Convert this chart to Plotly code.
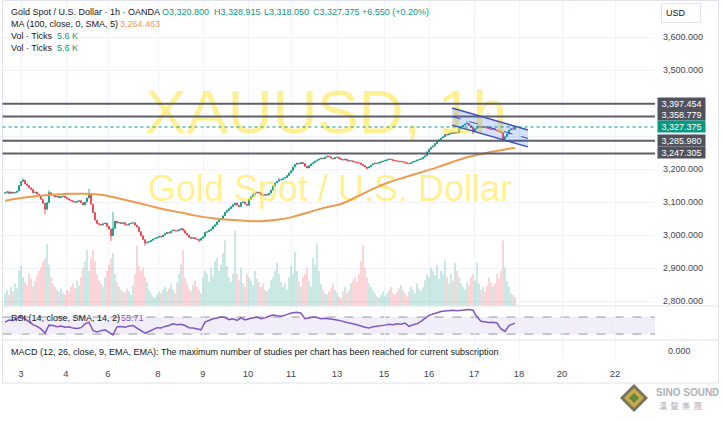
import plotly.graph_objects as go

W, H = 722, 421
FONT = "Liberation Sans"

# ---------------- data ----------------
closes = [
    3128, 3131, 3126, 3130, 3127, 3129, 3133, 3150, 3162, 3166, 3155, 3150, 3143, 3138, 3128, 3130,
    3124, 3118, 3108, 3096, 3078, 3098, 3128, 3124, 3120, 3115, 3117, 3113, 3116, 3118, 3114, 3110,
    3106, 3104, 3101, 3099, 3102, 3104, 3098, 3091, 3100, 3112, 3126, 3093, 3068, 3045, 3035, 3032,
    3030, 3034, 3036, 3026, 3018, 2998, 3020, 3042, 3036, 3038, 3035, 3037, 3031, 3030, 3034, 3036,
    3037, 3030, 3024, 3010, 2998, 2986, 2976, 2978, 2980, 2984, 2988, 2990, 2993, 2996, 2994, 3000,
    3004, 3008, 3006, 3012, 3015, 3013, 3012, 3016, 3019, 3014, 3006, 3000, 2993, 2990, 2992, 2988,
    2987, 2984, 2990, 2995, 3008, 3010, 3014, 3018, 3026, 3031, 3040, 3046, 3050, 3058, 3069, 3074,
    3080, 3086, 3092, 3097, 3090, 3086, 3098, 3100, 3094, 3090, 3108, 3116, 3122, 3127, 3130, 3128,
    3122, 3120, 3123, 3121, 3127, 3136, 3148, 3158, 3163, 3167, 3168, 3172, 3174, 3180, 3188, 3195,
    3206, 3214, 3218, 3216, 3220, 3217, 3208, 3203, 3210, 3216, 3219, 3224, 3227, 3230, 3233, 3231,
    3236, 3239, 3237, 3233, 3231, 3235, 3236, 3232, 3229, 3227, 3230, 3226, 3224, 3225, 3222, 3221,
    3219, 3218, 3214, 3210, 3206, 3203, 3207, 3212, 3216, 3218, 3217, 3220, 3222, 3224, 3226, 3228,
    3230, 3229, 3226, 3225, 3224, 3222, 3223, 3221, 3219, 3217, 3216, 3219, 3222, 3224, 3227, 3229,
    3231, 3236, 3240, 3252, 3260, 3266, 3270, 3277, 3283, 3289, 3294, 3298, 3305, 3303, 3307, 3310,
    3308, 3311, 3309, 3322, 3328, 3333, 3336, 3338, 3332, 3326, 3312, 3322, 3328, 3330, 3326, 3328,
    3327, 3324, 3322, 3320, 3322, 3318, 3316, 3314, 3310, 3290, 3298, 3306, 3318, 3322, 3320.825, 3327.375,
]
first_open = 3126.0
last_bar_open = 3320.800
wick_high = {9: 3172, 22: 3136, 42: 3140, 54: 3070, 137: 3173, 231: 3346, 255: 3328.915}
wick_low = {20: 3062, 53: 2982, 70: 2968, 97: 2978, 181: 3198, 234: 3305, 249: 3282, 255: 3318.050}

volumes_k = [
    8, 10, 7, 12, 9, 14, 11, 22, 25, 18, 15, 13, 20, 17, 12, 16,
    19, 22, 24, 28, 30, 39, 26, 18, 14, 12, 10, 9, 11, 8, 7, 10,
    9, 12, 14, 11, 16, 13, 18, 24, 28, 35, 22, 30, 35, 28, 20, 16,
    14, 12, 18, 22, 26, 30, 33, 20, 15, 12, 10, 9, 8, 11, 9, 7,
    13, 20, 38, 25, 22, 24, 18, 15, 10, 8, 6, 5, 7, 9, 8, 10,
    12, 9, 11, 14, 10, 8, 15, 20, 26, 35, 18, 14, 11, 9, 13, 16,
    12, 10, 8, 18, 22, 20, 15, 24, 19, 28, 30, 22, 26, 33, 41, 25,
    18, 15, 20, 47, 20, 16, 24, 14, 12, 20, 18, 16, 13, 22, 17, 15,
    12, 14, 10, 9, 11, 16, 18, 22, 27, 20, 15, 12, 14, 10, 18, 25,
    20, 34, 22, 15, 12, 18, 20, 24, 16, 12, 30, 26, 39, 22, 14, 10,
    8, 7, 9, 11, 14, 10, 8, 6, 5, 9, 12, 8, 10, 14, 16, 18,
    15, 20, 28, 38, 24, 18, 14, 12, 10, 8, 6, 5, 7, 9, 6, 8,
    10, 12, 8, 7, 9, 11, 13, 10, 8, 6, 9, 12, 10, 8, 14, 11,
    9, 12, 16, 20, 18, 24, 22, 19, 26, 17, 22, 20, 29, 18, 14, 20,
    16, 27, 22, 18, 14, 12, 10, 15, 13, 18, 20, 16, 27, 14, 10, 12,
    9, 13, 18, 15, 12, 14, 20, 17, 22, 41, 24, 16, 12, 8, 7, 5.6,
]

# MA(100) sampled every 8 bars, plus the last bar
ma_values = [3104, 3112, 3118, 3122, 3125, 3125, 3122, 3112, 3101, 3089, 3077, 3068, 3058, 3051, 3046, 3043,
             3042, 3046, 3055, 3069, 3083, 3094, 3116, 3140, 3160, 3175, 3190, 3205, 3222, 3237, 3248, 3257,
             3264.463]

# RSI sampled every 2 bars, plus the last bar
rsi_values = [58, 63, 62, 66, 72, 65, 58, 52, 48, 42, 32, 51, 50, 47, 49, 46,
              47, 44, 43, 45, 54, 58, 38, 35, 38, 40, 34, 28, 47, 48, 46, 49,
              50, 44, 36, 32, 36, 40, 45, 44, 48, 50, 54, 52, 53, 50, 45, 44,
              42, 40, 58, 63, 66, 68, 70, 69, 64, 66, 62, 68, 63, 66, 68, 70,
              66, 68, 72, 75, 73, 72, 74, 78, 80, 81, 79, 66, 68, 70, 69, 66,
              67, 66, 64, 63, 61, 58, 56, 54, 52, 49, 46, 44, 47, 48, 50, 51,
              53, 52, 54, 53, 56, 48, 52, 54, 60, 66, 74, 77, 80, 83, 84, 85,
              86, 85, 86, 87, 88, 86, 70, 60, 58, 57, 58, 56, 42, 36, 50, 54,
              55.71]

day_labels = ["3", "4", "6", "8", "9", "10", "11", "13", "15", "16", "17", "18", "20", "22"]
day_bars = [8, 30.5, 51.5, 76.5, 99, 121.5, 143, 166, 189.5, 212, 234.5, 257, 278.5, 305]
price_ticks = [2800, 2900, 3000, 3100, 3200, 3300, 3400, 3500, 3600]
level_prices = [3397.454, 3358.779, 3285.980, 3247.305]

# ---------------- derived series ----------------
n = len(closes)
bars = list(range(n))
opens = [first_open] + closes[:-1]
opens[-1] = last_bar_open
highs = [max(o, c, wick_high.get(i, c)) for i, (o, c) in enumerate(zip(opens, closes))]
lows = [min(o, c, wick_low.get(i, c)) for i, (o, c) in enumerate(zip(opens, closes))]
vol_colors = ["rgba(8,153,129,0.38)" if c >= o else "rgba(242,54,69,0.38)" for o, c in zip(opens, closes)]
ma_x = [8 * k for k in range(len(ma_values) - 1)] + [n - 1]
rsi_x = [2 * k for k in range(len(rsi_values) - 1)] + [n - 1]
last_close = closes[-1]


def px(x):
    return x / W


def py(y):
    return 1 - y / H


# price scale: 33 px per 100 USD, 3400 at y=103
P_TOP = 3400 + 103 / 0.33
P_BOT = 3400 - 203 / 0.33
XR = [-2.5, 325]

fig = go.Figure()
fig.add_trace(go.Bar(x=bars, y=volumes_k, marker=dict(color=vol_colors, line=dict(width=0)),
                     xaxis="x", yaxis="y", hoverinfo="skip"))
fig.add_trace(go.Scatter(x=[160.5, 162.5], y=[3355, 3130], mode="text",
                         text=["XAUUSD, 1h", "Gold Spot / U.S. Dollar"],
                         textfont=dict(size=[62, 36], color="rgba(255,228,40,0.5)", family=FONT),
                         xaxis="x", yaxis="y2", hoverinfo="skip"))
fig.add_trace(go.Candlestick(x=bars, open=opens, high=highs, low=lows, close=closes,
                             increasing=dict(line=dict(color="#089981", width=0.8), fillcolor="#089981"),
                             decreasing=dict(line=dict(color="#f23645", width=0.8), fillcolor="#f23645"),
                             xaxis="x", yaxis="y2", hoverinfo="skip"))
fig.add_trace(go.Scatter(x=ma_x, y=ma_values, mode="lines", line=dict(color="#ec9b4f", width=2, shape="spline"),
                         xaxis="x", yaxis="y2", hoverinfo="skip"))
fig.add_trace(go.Scatter(x=rsi_x, y=rsi_values, mode="lines", line=dict(color="#7e57c2", width=1.5),
                         xaxis="x2", yaxis="y3", hoverinfo="skip"))
# empty MACD pane (the study could not be loaded) - keeps its axes drawn
fig.add_trace(go.Scatter(x=[], y=[], mode="lines", xaxis="x3", yaxis="y4", hoverinfo="skip"))

grid = "#f0f3fa"
tickfont = dict(size=9, color="#434651", family=FONT)
ptext = ["" if v in (3300, 3400) else f"{v:,.3f}" for v in price_ticks]

shapes = []
shapes.append(dict(type="rect", xref="paper", yref="paper", x0=px(2.5), x1=px(718.5), y0=py(383), y1=py(0.5),
                   line=dict(color="#e0e3eb", width=1), fillcolor="rgba(0,0,0,0)"))
for yy in (306, 340):
    shapes.append(dict(type="line", xref="paper", yref="paper", x0=px(2.5), x1=px(718.5), y0=py(yy), y1=py(yy),
                       line=dict(color="#e0e3eb", width=1)))
shapes.append(dict(type="rect", xref="paper", yref="y3", x0=px(2.5), x1=px(655), y0=30, y1=70,
                   fillcolor="rgba(126,87,194,0.1)", line=dict(width=0), layer="below"))
for lvl in (70, 30):
    shapes.append(dict(type="line", xref="paper", yref="y3", x0=px(2.5), x1=px(655), y0=lvl, y1=lvl,
                       line=dict(color="#9598a1", width=1, dash="dash"), layer="below"))
for lvl in level_prices:
    shapes.append(dict(type="line", xref="paper", yref="y2", x0=px(2.5), x1=px(655), y0=lvl, y1=lvl,
                       line=dict(color="#5d606b", width=2)))
shapes.append(dict(type="line", xref="paper", yref="y2", x0=px(2.5), x1=px(655), y0=last_close, y1=last_close,
                   line=dict(color="#089981", width=1, dash="dot")))
# parallel channel drawing
cx0, cx1 = 223.5, 261.5
shapes.append(dict(type="path", xref="x", yref="y2",
                   path=f"M {cx0},3385 L {cx1},3318 L {cx1},3267 L {cx0},3333 Z",
                   fillcolor="rgba(41,98,255,0.2)", line=dict(width=0)))
for a, b, dash in ((3385, 3318, "solid"), (3333, 3267, "solid"), (3359, 3292.5, "dash")):
    shapes.append(dict(type="line", xref="x", yref="y2", x0=cx0, y0=a, x1=cx1, y1=b,
                       line=dict(color="#3f51b5", width=1.5 if dash == "solid" else 1, dash=dash)))


def ppath(pts):
    return "M " + " L ".join(f"{px(x):.5f},{py(y):.5f}" for x, y in pts) + " Z"


for r, col in ((14, "#77735a"), (10, "#c9a94a"), (5, "#5f8a3c")):
    shapes.append(dict(type="path", xref="paper", yref="paper",
                       path=ppath([(634, 398 - r), (634 + r, 398), (634, 398 + r), (634 - r, 398)]),
                       fillcolor=col, line=dict(width=0)))


def txt(x, y, s, color, size=9, **kw):
    d = dict(x=px(x), y=py(y), xref="paper", yref="paper", text=s, showarrow=False,
             xanchor="left", yanchor="middle", font=dict(size=size, color=color, family=FONT))
    d.update(kw)
    return d


dark = "#131722"
teal = "#089981"
ann = [
    txt(9, 12, "Gold Spot / U.S. Dollar · 1h · OANDA", dark),
    txt(160, 12, f"O{opens[-1]:,.3f}", teal),
    txt(212, 12, f"H{highs[-1]:,.3f}", teal),
    txt(262, 12, f"L{lows[-1]:,.3f}", teal),
    txt(311, 12, f"C{closes[-1]:,.3f}", teal),
    txt(360, 12, f"+{closes[-1] - closes[-2]:.3f} (+{(closes[-1] - closes[-2]) / closes[-2] * 100:.2f}%)", teal),
    txt(9, 24, "MA (100, close, 0, SMA, 5)", dark),
    txt(118, 24, f"{ma_values[-1]:,.3f}", "#ec9b4f"),
    txt(9, 36, "Vol · Ticks", dark),
    txt(55, 36, f"{volumes_k[-1]:.1f} K", teal),
    txt(9, 48, "Vol · Ticks", dark),
    txt(55, 48, f"{volumes_k[-1]:.1f} K", teal),
    txt(9, 318, "RSI (14, close, SMA, 14, 2)", dark),
    txt(119, 318, f"{rsi_values[-1]:.2f}", "#7e57c2"),
    txt(9, 352, "MACD (12, 26, close, 9, EMA, EMA): The maximum number of studies per chart has been reached for current subscription", dark),
    txt(661, 13, "USD", dark, bgcolor="white", bordercolor="#e0e3eb", borderwidth=1, borderpad=4, width=30, align="left"),
    txt(654, 392, "<b>SINO SOUND</b>", "#aeb2b8", size=10),
    txt(657, 405, "漢  聲  集  團", "#aeb2b8", size=8),
]
ann[-1]["font"]["family"] = "Noto Sans CJK TC"
box_levels = [(level_prices[0], "#50535e", 0), (level_prices[1], "#50535e", 2.5), (last_close, teal, 0),
              (level_prices[2], "#50535e", 0.5), (level_prices[3], "#50535e", 1.2)]
for price, col, shift in box_levels:
    ann.append(dict(x=px(657), y=price, xref="paper", yref="y2", text=f"{price:,.3f}", showarrow=False,
                    xanchor="left", yanchor="middle", bgcolor=col, font=dict(color="white", size=9, family=FONT),
                    borderpad=0.5, width=46, align="center", yshift=shift))

fig.update_layout(
    width=W, height=H, margin=dict(l=0, r=0, t=0, b=0),
    paper_bgcolor="white", plot_bgcolor="rgba(0,0,0,0)", showlegend=False, bargap=0.45,
    font=dict(family=FONT),
    xaxis=dict(domain=[0, px(655)], range=XR, anchor="y", tickvals=day_bars, showticklabels=False,
               showgrid=True, gridcolor=grid, zeroline=False, showline=False, ticks="",
               rangeslider=dict(visible=False)),
    yaxis=dict(domain=[py(306), 1], range=[0, 306 / 1.6], visible=False),
    yaxis2=dict(overlaying="y", anchor="x", side="right", range=[P_BOT, P_TOP], tickvals=price_ticks,
                ticktext=ptext, showgrid=True, gridcolor=grid, zeroline=False, ticks="",
                tickfont=tickfont, ticklabelstandoff=7),
    xaxis2=dict(domain=[0, px(655)], range=XR, anchor="y3", tickvals=day_bars, showticklabels=False,
                showgrid=True, gridcolor=grid, zeroline=False, ticks=""),
    yaxis3=dict(domain=[py(340), py(306)], range=[16, 96], showticklabels=False, showgrid=False,
                zeroline=False, anchor="x2"),
    xaxis3=dict(domain=[0, px(655)], range=XR, anchor="y4", tickvals=day_bars, ticktext=day_labels,
                showgrid=True, gridcolor=grid, zeroline=False, ticks="",
                tickfont=dict(size=9.5, color="#434651", family=FONT), ticklabelstandoff=4),
    yaxis4=dict(domain=[py(362), py(340)], range=[-1, 1], side="right", anchor="x3", tickvals=[0],
                ticktext=["0.000"], showgrid=False, zeroline=False, ticks="", tickfont=tickfont,
                ticklabelstandoff=12),
    shapes=shapes, annotations=ann,
)

fig.write_html("out.html", config={"displayModeBar": False, "staticPlot": True},
               post_script="document.body.style.margin='0';")
